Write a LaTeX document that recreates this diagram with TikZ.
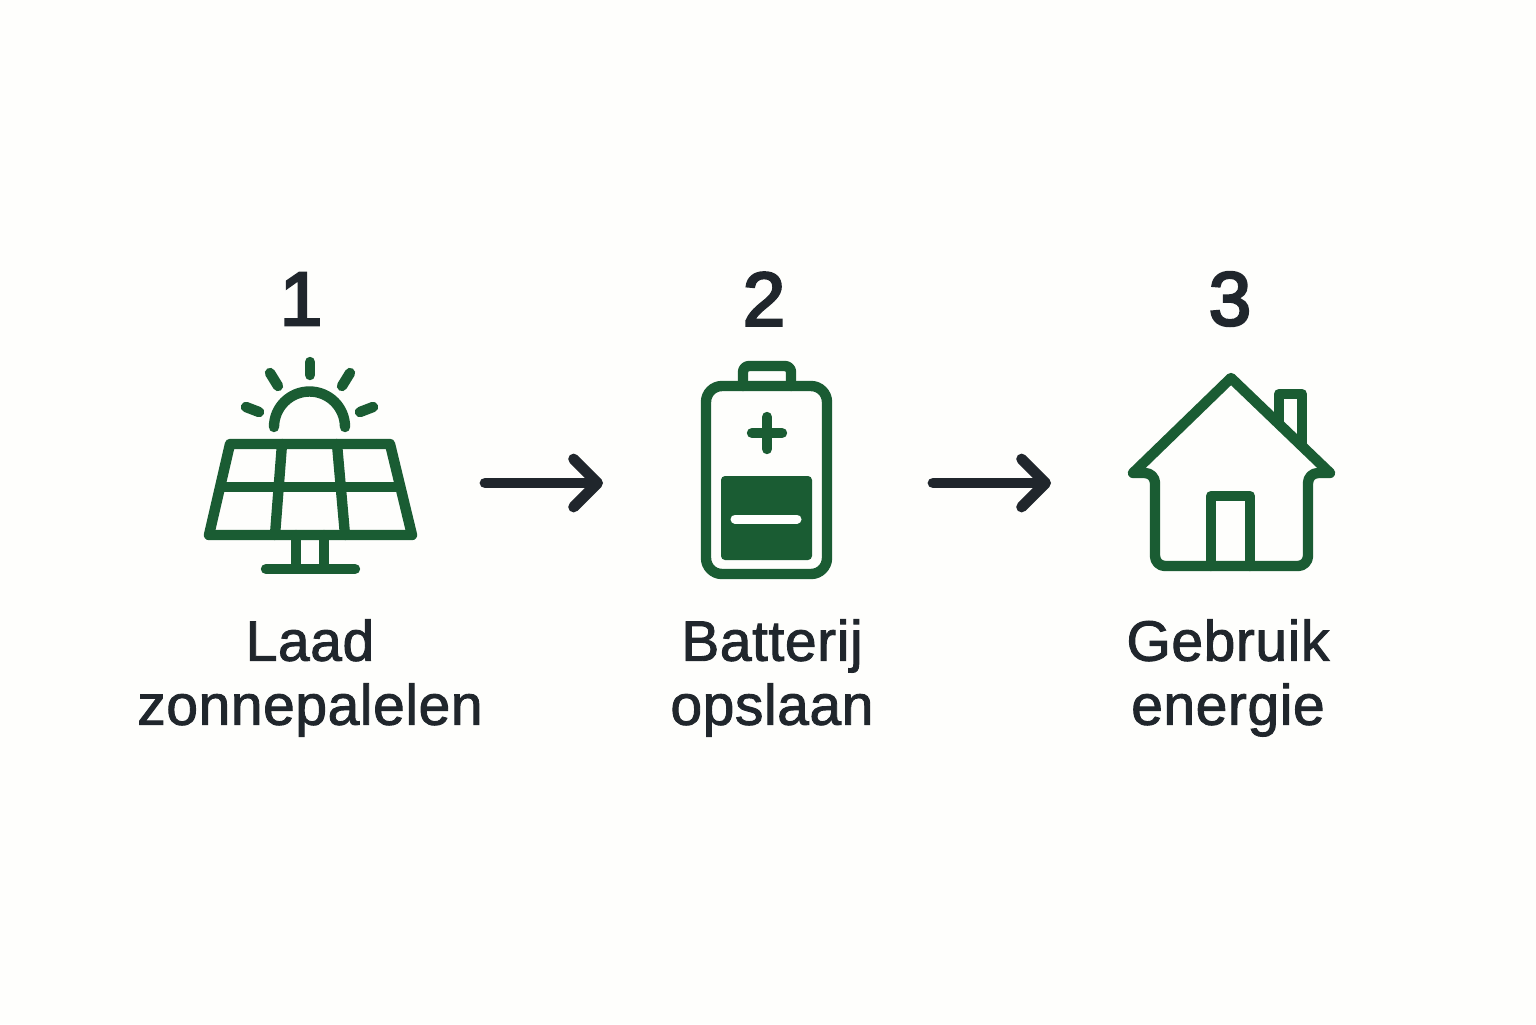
\documentclass[tikz,border=0pt]{standalone}
\usepackage{fontspec}
\setmainfont{Liberation Sans}
\newfontfamily\labelfont[FakeBold=1.6, LetterSpace=1]{Liberation Sans}
\newfontfamily\numfont[FakeBold=3.5]{Liberation Sans}
\usepackage{tikz}
\usetikzlibrary{arrows.meta}
\definecolor{leaf}{HTML}{1A5C33}
\definecolor{ink}{HTML}{20262C}
\definecolor{paper}{HTML}{FEFEFC}
\tikzset{
    icon/.style={draw=leaf, line width=5.2pt, line cap=round, line join=round},
    flow/.style={draw=ink, line width=5.4pt, line cap=round, line join=round,
        -{Straight Barb[round, length=12pt, width=24pt]}},
    stepnum/.style={text=ink, font=\fontsize{38}{38}\numfont},
    steplabel/.style={text=ink, align=center, font=\fontsize{28.5}{32}\labelfont}
}

\begin{document}
\begin{tikzpicture}[x=0.5pt, y=-0.5pt]
    \fill[paper] (0, 0) rectangle (1536, 1024);
    % numbers
    \node[stepnum] (num1) at (301, 299) {1};
    \node[stepnum] (num2) at (764, 299) {2};
    \node[stepnum] (num3) at (1230, 299) {3};
    % solar panel
    \draw[icon] (274, 427) arc (180:360:35.5);
    \draw[icon] (310, 362) -- (310, 375);
    \draw[icon] (270, 373) -- (278, 386);
    \draw[icon] (350, 373) -- (342, 386);
    \draw[icon] (246, 407) -- (259, 412);
    \draw[icon] (373, 407) -- (360, 412);
    \draw[icon] (230, 444) -- (390, 444) -- (412, 535) -- (209, 535) -- cycle;
    \draw[icon] (221, 487) -- (400, 487);
    \draw[icon] (282, 444) -- (275, 535);
    \draw[icon] (337, 444) -- (345, 535);
    \draw[icon] (296, 535) -- (296, 568);
    \draw[icon] (324, 535) -- (324, 568);
    \draw[icon] (266, 569) -- (355, 569);
    % battery
    \draw[icon, rounded corners=3pt] (743, 386) -- (743, 366) -- (791, 366) -- (791, 386);
    \draw[icon, rounded corners=8pt] (706, 386) rectangle (827, 574);
    \draw[icon] (767, 417) -- (767, 449);
    \draw[icon] (752, 433) -- (782, 433);
    \fill[leaf, rounded corners=2pt] (721, 476) rectangle (812, 560);
    \draw[white, line width=4.5pt, line cap=round] (735, 519) -- (797, 519);
    % house
    \draw[icon] (1279, 424) -- (1279, 394) -- (1302, 394) -- (1302, 446);
    \draw[icon] (1231, 378) -- (1330, 473) [rounded corners=5pt] -- (1308, 473) -- (1308, 566)
        -- (1155, 566) -- (1155, 473) [sharp corners] -- (1133, 473) -- cycle;
    \draw[icon] (1211, 566) -- (1211, 496) -- (1250, 496) -- (1250, 566);
    % arrows
    \coordinate (flow1a) at (485, 483);
    \coordinate (flow1b) at (603, 483);
    \coordinate (flow2a) at (933, 483);
    \coordinate (flow2b) at (1051, 483);
    \draw[flow] (flow1a) -- (flow1b);
    \draw[flow] (flow2a) -- (flow2b);
    % labels
    \node[steplabel] (label1) at (310, 678) {Laad\\zonnepalelen};
    \node[steplabel] (label2) at (772, 678) {Batterij\\opslaan};
    \node[steplabel] (label3) at (1228, 678) {Gebruik\\energie};
\end{tikzpicture}
\end{document}
